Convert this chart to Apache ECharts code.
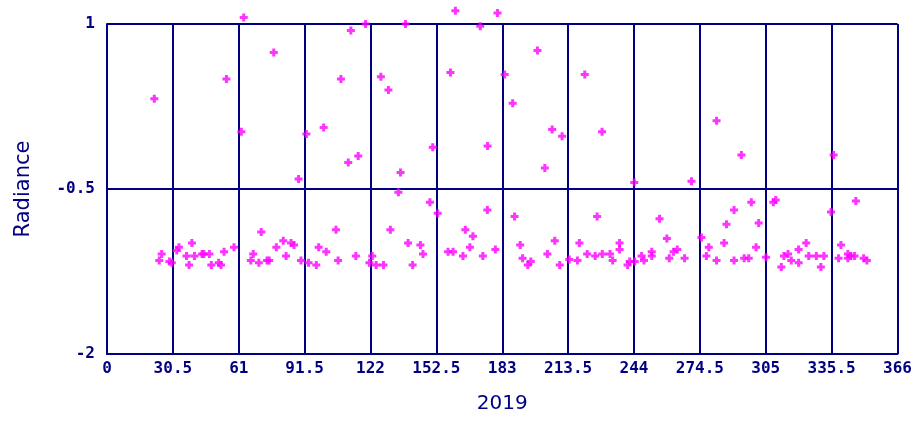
<!DOCTYPE html>
<html>
<head>
<meta charset="utf-8">
<script src="https://cdn.jsdelivr.net/npm/echarts@6/dist/echarts.min.js"></script>
<style>
    html, body {margin: 0; padding: 0; background: #fff;}
    #radianceChart {width: 915px; height: 421px;}
</style>
</head>
<body>
<div id="radianceChart"></div>
<script>
// day of year (2019)
var days = [
    21.9, 55.3, 62.2, 63.3, 77.2, 88.7, 92.3, 100.3, 108.3, 111.7, 112.9, 116.3, 119.7,
    126.8, 130.3, 134.9, 135.9, 138.2, 131.2, 149.5, 150.8, 153.1, 159.0, 161.3, 172.8,
    176.1, 176.2, 180.8, 184.1, 187.8, 188.7, 199.3, 202.7, 206.1, 210.7, 221.2, 226.9,
    229.2, 244.1, 255.8, 270.6, 282.2, 286.8, 290.3, 293.7, 298.3, 301.7, 308.5, 309.6,
    335.2, 336.4, 346.7,
    24.2, 25.3, 28.9, 30.0, 32.3, 33.3, 36.8, 38.0, 39.3, 40.5, 44.0, 44.8, 47.4, 48.3,
    51.7, 52.8, 54.2, 58.8, 66.6, 67.7, 70.3, 71.4, 74.1, 75.1, 78.4, 81.6, 82.9, 85.2,
    86.6, 89.8, 93.3, 96.9, 98.0, 101.5, 106.0, 107.0, 115.2, 121.5, 122.8, 124.6, 128.0,
    139.4, 141.5, 145.1, 146.3, 157.9, 160.2, 164.8, 165.9, 168.0, 169.4, 174.0, 179.8,
    191.3, 192.4, 194.8, 196.2, 203.9, 207.3, 209.6, 214.0, 217.8, 218.7, 222.3, 226.0,
    229.3, 232.9, 234.1, 237.3, 237.3, 241.0, 242.0, 244.3, 247.5, 248.6, 252.2, 252.2,
    259.2, 260.3, 262.3, 264.0, 267.4, 275.2, 277.5, 278.6, 282.2, 285.7, 290.3, 295.0,
    297.1, 300.5, 305.1, 312.2, 313.4, 315.3, 316.8, 320.2, 320.2, 323.7, 324.9, 328.4,
    330.5, 331.9, 338.7, 339.8, 343.0, 343.0, 344.4, 346.1, 350.3, 351.8
];
var radiance = [
    0.32, 0.50, 0.02, 1.06, 0.74, -0.41, 0.00, 0.06, 0.50, -0.26, 0.94, -0.20, 1.00,
    0.52, 0.40, -0.53, -0.35, 1.00, -0.87, -0.62, -0.12, -0.72, 0.56, 1.12, 0.98,
    -0.69, -0.11, 1.10, 0.54, 0.28, -0.75, 0.76, -0.31, 0.04, -0.02, 0.54, -0.75,
    0.02, -0.44, -0.77, -0.43, 0.12, -0.82, -0.69, -0.19, -0.62, -0.81, -0.62, -0.60,
    -0.71, -0.19, -0.61,
    -1.15, -1.09, -1.16, -1.17, -1.06, -1.03, -1.11, -1.19, -0.99, -1.11, -1.09, -1.09, -1.09, -1.19,
    -1.17, -1.19, -1.07, -1.03, -1.15, -1.09, -1.17, -0.89, -1.15, -1.15, -1.03, -0.97, -1.11, -0.99,
    -1.01, -1.15, -1.17, -1.19, -1.03, -1.07, -0.87, -1.15, -1.11, -1.17, -1.11, -1.19, -1.19,
    -0.99, -1.19, -1.01, -1.09, -1.07, -1.07, -1.11, -0.87, -1.03, -0.93, -1.11, -1.05,
    -1.01, -1.13, -1.19, -1.16, -1.09, -0.97, -1.19, -1.14, -1.15, -0.99, -1.09, -1.11,
    -1.09, -1.09, -1.15, -0.99, -1.05, -1.19, -1.16, -1.16, -1.11, -1.15, -1.07, -1.11,
    -0.95, -1.13, -1.07, -1.05, -1.13, -0.94, -1.11, -1.03, -1.15, -0.99, -1.15, -1.13,
    -1.13, -1.03, -1.12, -1.21, -1.11, -1.09, -1.15, -1.05, -1.17, -0.99, -1.11, -1.11,
    -1.21, -1.11, -1.13, -1.01, -1.09, -1.13, -1.11, -1.11, -1.13, -1.15
];
var xTicks = {min: 0, max: 366, interval: 30.5};
var yTicks = {min: -2, max: 1, interval: 1.5};

var navy = '#000080';
var chartDom = document.getElementById('radianceChart');
var myChart = echarts.init(chartDom);
var points = [];
for (var i = 0; i < days.length; i++) {
    points.push([days[i], radiance[i]]);
}
var option;
option = {
    animation: false,
    grid: {left: 107, right: 16, top: 24, bottom: 67},
    xAxis: {
        type: 'value',
        min: xTicks.min,
        max: xTicks.max,
        interval: xTicks.interval,
        name: '2019',
        nameLocation: 'middle',
        nameGap: 40,
        nameTextStyle: {color: navy, fontFamily: 'DejaVu Sans', fontSize: 20},
        axisLine: {onZero: false, lineStyle: {color: navy, width: 2}},
        axisTick: {show: false},
        axisLabel: {
            color: navy, margin: 7,
            fontFamily: 'DejaVu Sans Mono', fontWeight: 'bold', fontSize: 16,
            showMaxLabel: true, showMinLabel: true
        },
        splitLine: {show: true, lineStyle: {color: navy, width: 2}}
    },
    yAxis: {
        type: 'value',
        min: yTicks.min,
        max: yTicks.max,
        interval: yTicks.interval,
        name: 'Radiance',
        nameLocation: 'middle',
        nameGap: 73,
        nameTextStyle: {color: navy, fontFamily: 'DejaVu Sans', fontSize: 21},
        axisLine: {show: true, onZero: false, lineStyle: {color: navy, width: 2}},
        axisTick: {show: false},
        axisLabel: {
            color: navy, margin: 12,
            fontFamily: 'DejaVu Sans Mono', fontWeight: 'bold', fontSize: 16
        },
        splitLine: {show: true, lineStyle: {color: navy, width: 2}}
    },
    series: [
        {
            type: 'scatter',
            data: points,
            clip: false,
            symbol: 'path://M2.5,0H5.5V2.5H8V5.5H5.5V8H2.5V5.5H0V2.5H2.5Z',
            symbolSize: 8,
            itemStyle: {color: '#ff00ff'}
        }
    ]
};

option && myChart.setOption(option);
</script>
</body>
</html>
